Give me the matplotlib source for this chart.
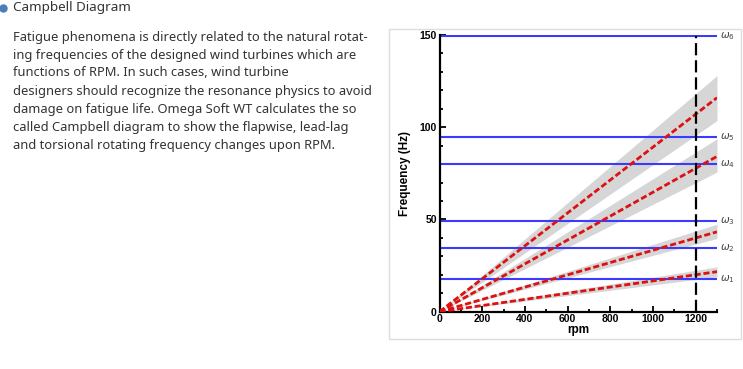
import matplotlib.pyplot as plt
from matplotlib.patches import Rectangle, Ellipse
from matplotlib.ticker import MultipleLocator

W, H = 743, 369

# natural frequencies (Hz), horizontal lines
omega_labels = [r'$\omega_1$', r'$\omega_2$', r'$\omega_3$', r'$\omega_4$', r'$\omega_5$', r'$\omega_6$']
omega_freq = [17.6, 34.5, 49.2, 80.2, 94.6, 149.4]

# excitation lines (Hz) read at rpm_end, with grey band limits
rpm_end = 1300
excite_end = [21.7, 43.3, 84.2, 116.0]
band_low = [18.9, 39.7, 75.7, 103.6]
band_high = [24.3, 47.4, 93.7, 128.0]

rpm_op = 1200  # operating rpm

title = "Campbell Diagram"
body = [
    "Fatigue phenomena is directly related to the natural rotat-",
    "ing frequencies of the designed wind turbines which are",
    "functions of RPM. In such cases, wind turbine",
    "designers should recognize the resonance physics to avoid",
    "damage on fatigue life. Omega Soft WT calculates the so",
    "called Campbell diagram to show the flapwise, lead-lag",
    "and torsional rotating frequency changes upon RPM.",
]

fig = plt.figure(figsize=(W / 100, H / 100), dpi=100)

def fx(px):
    return px / W

def fy(py):
    return 1 - py / H

# page text on the left
fig.patches.append(Ellipse((fx(3.5), fy(8.5)), 7 / W, 7 / H, transform=fig.transFigure,
                           color='#4a7ebb', zorder=5))
fig.text(fx(13), fy(8), title, fontsize=9.7, family='Noto Sans', color='#333333', va='center')
for i, line in enumerate(body):
    fig.text(fx(13), fy(37 + 18 * i), line, fontsize=9.3, family='Noto Sans',
             color='#333333', va='center')

# image frame
fig.patches.append(Rectangle((fx(389), fy(339)), fx(741) - fx(389), fy(29) - fy(339),
                             transform=fig.transFigure, fill=False,
                             edgecolor='#dddddd', lw=1))

ax = fig.add_axes([fx(439.5), fy(311.7), fx(717) - fx(439.5), fy(35) - fy(311.7)])

for lo, hi in zip(band_low, band_high):
    ax.fill_between([0, rpm_end], [0, lo], [0, hi], color='#d6d6d6', lw=0, zorder=1)

for f, lab in zip(omega_freq, omega_labels):
    ax.plot([0, rpm_end], [f, f], color='#3b3bff', lw=1.5, zorder=2)
    ax.text(rpm_end + 15, f, lab, fontsize=7.5, color='#444444', va='center',
            ha='left', clip_on=False)

for e in excite_end:
    ax.plot([0, rpm_end], [0, e], color='#dd1111', lw=2.0, ls=(0, (2.2, 1.0)), zorder=3)

ax.plot([rpm_op, rpm_op], [0, omega_freq[-1]], color='black', lw=1.6,
        ls=(0, (5.5, 2.2)), zorder=4)

ax.set_xlim(0, rpm_end)
ax.set_ylim(0, 150)
ax.set_xticks(range(0, 1201, 200))
ax.xaxis.set_minor_locator(MultipleLocator(100))
ax.set_yticks([0, 50, 100, 150])
ax.yaxis.set_minor_locator(MultipleLocator(10))
ax.spines['top'].set_visible(False)
ax.spines['right'].set_visible(False)
for s in ['left', 'bottom']:
    ax.spines[s].set_linewidth(1.6)
ax.tick_params(which='both', direction='in', width=1.3, labelsize=7.5, pad=2)
ax.tick_params(which='major', length=4)
ax.tick_params(which='minor', length=2.2)
for lbl in ax.get_xticklabels() + ax.get_yticklabels():
    lbl.set_fontweight('bold')
    lbl.set_family('Liberation Sans')
ax.set_xlabel('rpm', fontsize=8.5, fontweight='bold', family='Liberation Sans', labelpad=0)
ax.set_ylabel('Frequency (Hz)', fontsize=8.5, fontweight='bold', family='Liberation Sans',
              labelpad=6)
ax.patch.set_alpha(0)

fig.savefig('out.png', dpi=100)
